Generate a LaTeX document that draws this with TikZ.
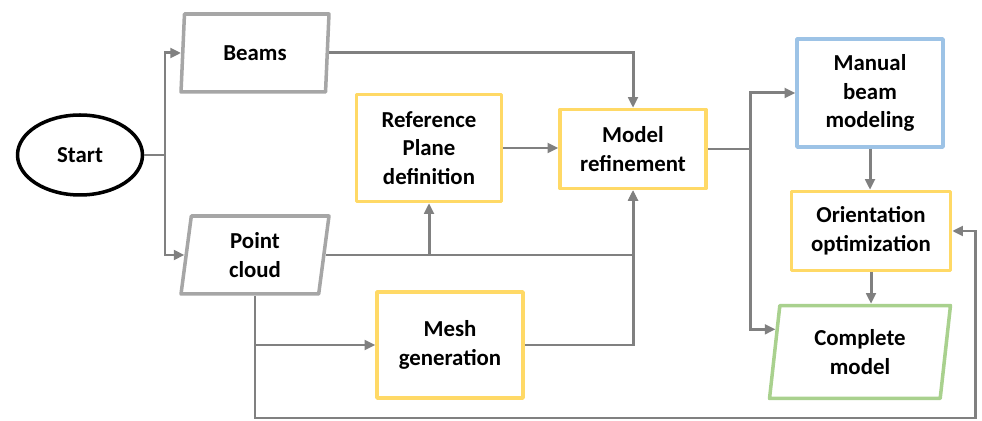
\documentclass[tikz,border=0pt]{standalone}
\usepackage{fontspec}
\setmainfont{Carlito}
\usetikzlibrary{shapes.geometric,arrows.meta}
\definecolor{flowgray}{RGB}{128,128,128}
\definecolor{datagray}{RGB}{166,166,166}
\definecolor{stepyellow}{RGB}{255,217,102}
\definecolor{handblue}{RGB}{157,195,230}
\definecolor{donegreen}{RGB}{169,209,142}

\begin{document}
\begin{tikzpicture}[x=0.02cm,y=-0.02cm,
    font=\fontsize{13}{16.2}\selectfont\bfseries,
    every node/.style={align=center,inner sep=0pt},
    stepbox/.style={draw=stepyellow,line width=2pt,line join=round,minimum width=2.9cm,minimum height=1.58cm},
    databox/.style={trapezium,trapezium left angle=77,trapezium right angle=103,
      trapezium stretches body,draw=datagray,line width=2pt,line join=round,minimum width=2.96cm,minimum height=1.56cm},
    link/.style={draw=flowgray,line width=1.7pt},
    flow/.style={link,-{Triangle[length=6pt,width=5.5pt]}}]
    \useasboundingbox (0,0) rectangle (982,421);

    \path (80,155) node [ellipse,draw,line width=2pt,minimum width=2.5cm,minimum height=1.6cm](start){Start};
    \path (255,53) node [databox](beams){Beams};
    \path (255,255) node [databox](cloud){Point\\cloud};
    \path (429,148) node [stepbox,minimum height=2.14cm](plane){Reference\\Plane\\definition};
    \path (633,149) node [stepbox,minimum width=2.92cm](refine){Model\\refinement};
    \path (450,345) node [stepbox,minimum width=2.92cm,minimum height=2.12cm](mesh){Mesh\\generation};
    \path (870,93) node [stepbox,draw=handblue,minimum width=2.92cm,minimum height=2.16cm](manual){Manual\\beam\\modeling};
    \path (871,231) node [stepbox,minimum width=3.18cm](orient){Orientation\\optimization};
    \path (860,352) node [databox,draw=donegreen,minimum width=3.62cm,minimum height=1.86cm](result){Complete\\model};

    \coordinate (fork) at (165,155);
    \coordinate (drop) at (cloud.center |- cloud.south);
    \coordinate (back) at (975,418);
    \coordinate (split) at (750,149);

    \draw[link] (start) -- (fork);
    \draw[flow] (fork) |- (beams);
    \draw[flow] (fork) |- (cloud);
    \draw[flow] (beams) -| (refine);
    \draw[flow] (cloud) -| (refine);
    \draw[flow] (cloud.east -| plane.south) -- (plane.south);
    \draw[flow] (plane.east) -- (plane.east -| refine.west);
    \draw[flow] (mesh) -| (refine);
    \draw[flow] (drop |- mesh.west) -- (mesh.west);
    \draw[flow] (drop) |- (back) |- (orient.east);
    \draw[link] (refine.east) -- (refine.east -| split);
    \draw[flow] (refine.east -| split) |- (manual);
    \draw[flow] (refine.east -| split) |- (result.165);
    \draw[flow] (manual.south) -- (manual.south |- orient.north);
    \draw[flow] (orient.south) -- (orient.south |- result.north);

  \end{tikzpicture}
\end{document}
